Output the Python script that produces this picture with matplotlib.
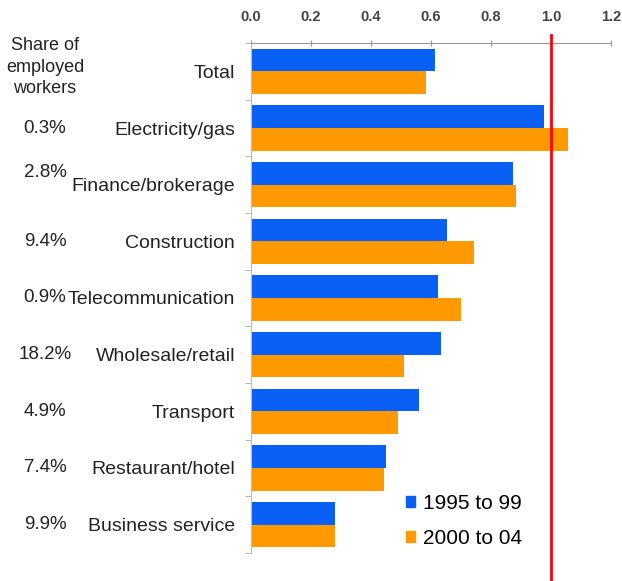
import matplotlib
matplotlib.use("Agg")
import matplotlib.pyplot as plt
from matplotlib.patches import Patch
import numpy as np

plt.rcParams['font.family'] = ['Liberation Sans', 'DejaVu Sans']

categories = ["Total", "Electricity/gas", "Finance/brokerage", "Construction",
              "Telecommunication", "Wholesale/retail", "Transport",
              "Restaurant/hotel", "Business service"]
shares = ["", "0.3%", "2.8%", "9.4%", "0.9%", "18.2%", "4.9%", "7.4%", "9.9%"]
series_names = ["1995 to 99", "2000 to 04"]
values_1995_99 = [0.613, 0.975, 0.872, 0.654, 0.622, 0.634, 0.561, 0.450, 0.279]
values_2000_04 = [0.583, 1.055, 0.883, 0.742, 0.701, 0.510, 0.491, 0.442, 0.279]
x_ticks = [0.0, 0.2, 0.4, 0.6, 0.8, 1.0, 1.2]
reference_level = 1.0

blue = "#0A60F5"
orange = "#FF9900"
text_color = "#222222"

fig = plt.figure(figsize=(6.22, 5.81), dpi=100)
ax = fig.add_axes([251 / 622, 1 - 553 / 581, 360 / 622, 510 / 581])

n = len(categories)
y = np.arange(n)
h = 0.4
ax.barh(y - h / 2, values_1995_99, height=h, color=blue, label=series_names[0])
ax.barh(y + h / 2, values_2000_04, height=h, color=orange, label=series_names[1])

ax.set_xlim(0, 1.2)
ax.set_ylim(n - 0.5, -0.5)
ax.xaxis.tick_top()
ax.set_xticks(x_ticks)
ax.set_xticklabels([f"{t:.1f}" for t in x_ticks], fontsize=10.5, fontweight="bold",
                   color="#444444")
ax.tick_params(axis="x", direction="inout", length=5, color="#999999", pad=11)

ax.set_yticks(y)
ax.set_yticklabels(categories, fontsize=14, color=text_color)
ax.tick_params(axis="y", which="major", length=0, pad=11.5)
ax.set_yticks(np.arange(n + 1) - 0.5, minor=True)
ax.tick_params(axis="y", which="minor", length=4, color="#aaaaaa", direction="out")

for side in ["right", "bottom"]:
    ax.spines[side].set_visible(False)
ax.spines["top"].set_color("#999999")
ax.spines["left"].set_color("#bbbbbb")

# reference line, extending past the plotting area to the figure bottom
ax.plot([reference_level, reference_level], [-0.64, n + 0.05], color="#FF0000",
        lw=2, clip_on=False, zorder=5)

# share of employment column
share_x = 45 / 622
fig.text(share_x, 1 - 67 / 581, "Share of\nemployed\nworkers", ha="center",
         va="center", fontsize=13, color=text_color, linespacing=1.32)
share_offsets = {2: -0.21}
for i, s in enumerate(shares):
    if not s:
        continue
    yy = i + share_offsets.get(i, 0.0)
    disp = ax.transData.transform((0, yy))
    fy = fig.transFigure.inverted().transform(disp)[1]
    fig.text(share_x, fy, s, ha="center", va="center", fontsize=13.5,
             color=text_color)

handles = [Patch(color=blue, label=series_names[0]),
           Patch(color=orange, label=series_names[1])]
ax.legend(handles=handles, loc="center left",
          bbox_to_anchor=(406 / 622, 1 - 521 / 581), bbox_transform=fig.transFigure,
          frameon=False, fontsize=15, handlelength=0.45, handleheight=0.45,
          handletextpad=0.35, labelspacing=0.75, borderpad=0, borderaxespad=0)

fig.savefig("out.png", dpi=100)
